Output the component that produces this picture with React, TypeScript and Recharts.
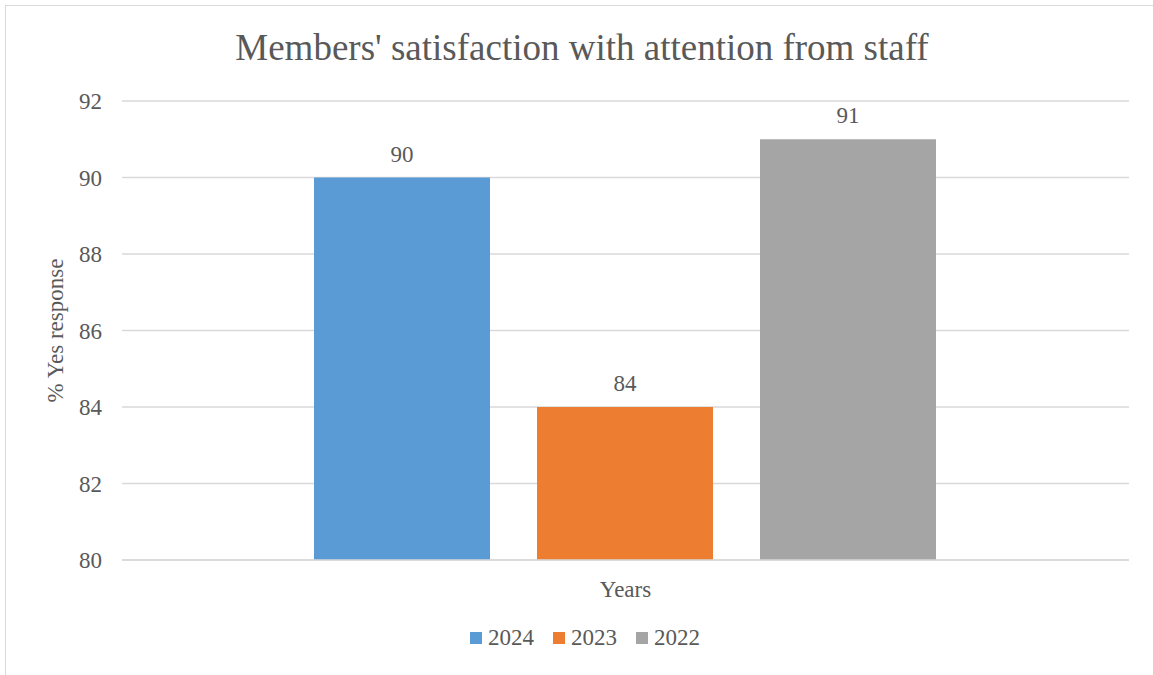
import React from "react";
import { BarChart, Bar, XAxis, YAxis, CartesianGrid, LabelList } from "recharts";

const categories = ["Years"];
const seriesNames = ["2024", "2023", "2022"];
const values2024 = [90];
const values2023 = [84];
const values2022 = [91];
const yTicks = [80, 82, 84, 86, 88, 90, 92];
const seriesColors = ["#5B9BD5", "#ED7D31", "#A5A5A5"];
const title = "Members' satisfaction with attention from staff";
const yLabel = "% Yes response";

const seriesValues = [values2024, values2023, values2022];
const data = categories.map((c, i) => {
  const row: Record<string, string | number> = { category: c };
  seriesNames.forEach((s, k) => {
    row[s] = seriesValues[k][i];
  });
  return row;
});

const FONT = "'Liberation Serif', 'Times New Roman', serif";
const TEXT = "#595959";
const GRID = "#D9D9D9";
const textStyle = { fontFamily: FONT, fontSize: 23, fill: TEXT } as React.CSSProperties;

const YLabel = (props: any) => {
  const vb = props.viewBox || {};
  const cy = (vb.y ?? 101) + (vb.height ?? 459) / 2;
  const x = 63;
  return (
    <text x={x} y={cy} transform={`rotate(-90, ${x}, ${cy})`} textAnchor="middle" style={textStyle}>
      {yLabel}
    </text>
  );
};

const YTick = (props: any) => {
  const { x, y, payload } = props;
  return (
    <text x={x} y={y} dy={8} textAnchor="end" style={textStyle}>
      {payload.value}
    </text>
  );
};

const XTick = (props: any) => {
  const { x, y, payload } = props;
  return (
    <text x={x} y={y} dy={16} textAnchor="middle" style={textStyle}>
      {payload.value}
    </text>
  );
};

const BarLabel = (props: any) => {
  const { x, y, width, value } = props;
  return (
    <text x={Number(x) + Number(width) / 2} y={Number(y) - 16} textAnchor="middle" style={textStyle}>
      {value}
    </text>
  );
};

export default function App() {
  return (
    <div
      style={{
        position: "absolute",
        left: 0,
        top: 0,
        width: 1153,
        height: 675,
        overflow: "hidden",
        background: "#fff",
        fontFamily: FONT,
      }}
    >
      <div
        style={{
          position: "absolute",
          left: 5,
          top: 5,
          width: 1200,
          height: 700,
          border: `1px solid ${GRID}`,
          boxSizing: "border-box",
        }}
      />
      <div style={{ position: "absolute", left: 0, top: 0 }}>
        <BarChart
          width={1153}
          height={675}
          data={data}
          margin={{ top: 101, right: 24, bottom: 0, left: 0 }}
          barCategoryGap={192}
          barGap={47}
        >
          <CartesianGrid vertical={false} stroke={GRID} strokeWidth={1.5} />
          <XAxis
            dataKey="category"
            height={115}
            tickLine={false}
            axisLine={{ stroke: GRID, strokeWidth: 1.5 }}
            tickSize={0}
            tickMargin={21}
            tick={<XTick />}
          />
          <YAxis
            width={122}
            domain={[80, 92]}
            ticks={yTicks}
            interval={0}
            allowDataOverflow
            tickLine={false}
            axisLine={false}
            tickSize={0}
            tickMargin={20}
            tick={<YTick />}
            label={{ content: (p: any) => <YLabel {...p} /> }}
          />
          {seriesNames.map((s, k) => (
            <Bar key={s} dataKey={s} fill={seriesColors[k]} isAnimationActive={false}>
              <LabelList dataKey={s} content={<BarLabel />} />
            </Bar>
          ))}
        </BarChart>
      </div>
      <svg
        width={1153}
        height={675}
        style={{ position: "absolute", left: 0, top: 0, pointerEvents: "none" }}
      >
        <text x={582} y={60} textAnchor="middle" style={{ ...textStyle, fontSize: 37 }}>
          {title}
        </text>
      </svg>
      <div
        style={{
          position: "absolute",
          left: 0,
          width: 1170,
          top: 626,
          display: "flex",
          justifyContent: "center",
          alignItems: "center",
          fontFamily: FONT,
          fontSize: 23,
          color: TEXT,
          lineHeight: "23px",
        }}
      >
        {seriesNames.map((s, k) => (
          <div key={s} style={{ display: "flex", alignItems: "center", marginLeft: k === 0 ? 0 : 19 }}>
            <span
              style={{
                display: "inline-block",
                width: 12,
                height: 12,
                background: seriesColors[k],
                marginRight: 6,
              }}
            />
            <span>{s}</span>
          </div>
        ))}
      </div>
    </div>
  );
}
